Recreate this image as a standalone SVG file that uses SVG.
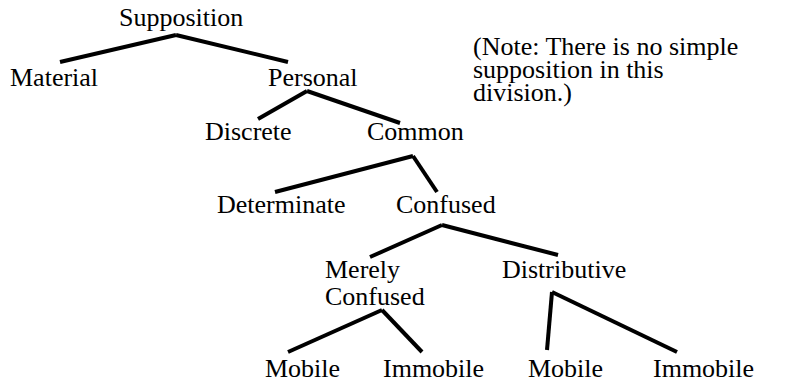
<svg xmlns="http://www.w3.org/2000/svg" width="795" height="389" viewBox="0 0 795 389">
<style>
text{font-family:"Liberation Serif","Times New Roman",serif;font-size:26px;fill:#000}
.c line{stroke:#000;stroke-width:4;stroke-linecap:butt}
</style>
<rect width="795" height="389" fill="#fff"/>
<g class="c" id="connectors">
<line x1="60" y1="62" x2="176" y2="35"/><line x1="176" y1="35" x2="288" y2="62"/>
<line x1="258" y1="119" x2="307" y2="91"/><line x1="307" y1="91" x2="400" y2="123"/>
<line x1="275" y1="192" x2="413" y2="156"/><line x1="413" y1="156" x2="437" y2="192"/>
<line x1="370" y1="257" x2="442" y2="225"/><line x1="442" y1="225" x2="558" y2="255"/>
<line x1="288" y1="352" x2="382" y2="310"/><line x1="382" y1="310" x2="422" y2="352"/>
<line x1="547" y1="350" x2="552" y2="292"/><line x1="552" y1="292" x2="677" y2="352"/>
</g>
<g id="supposition"><text x="119" y="26">Supposition</text></g>
<g id="material"><text x="10" y="86">Material</text></g>
<g id="personal"><text x="268" y="86">Personal</text></g>
<g id="note"><text x="473" y="55">(Note: There is no simple</text><text x="473" y="78">supposition in this</text><text x="473" y="101">division.)</text></g>
<g id="discrete"><text x="205" y="140">Discrete</text></g>
<g id="common"><text x="367" y="140">Common</text></g>
<g id="determinate"><text x="217" y="213">Determinate</text></g>
<g id="confused"><text x="396" y="213">Confused</text></g>
<g id="merely-confused"><text x="325" y="278">Merely</text><text x="325" y="305">Confused</text></g>
<g id="distributive"><text x="502" y="278">Distributive</text></g>
<g id="mobile1"><text x="265" y="377">Mobile</text></g>
<g id="immobile1"><text x="383" y="377">Immobile</text></g>
<g id="mobile2"><text x="528" y="377">Mobile</text></g>
<g id="immobile2"><text x="653" y="377">Immobile</text></g>
</svg>
